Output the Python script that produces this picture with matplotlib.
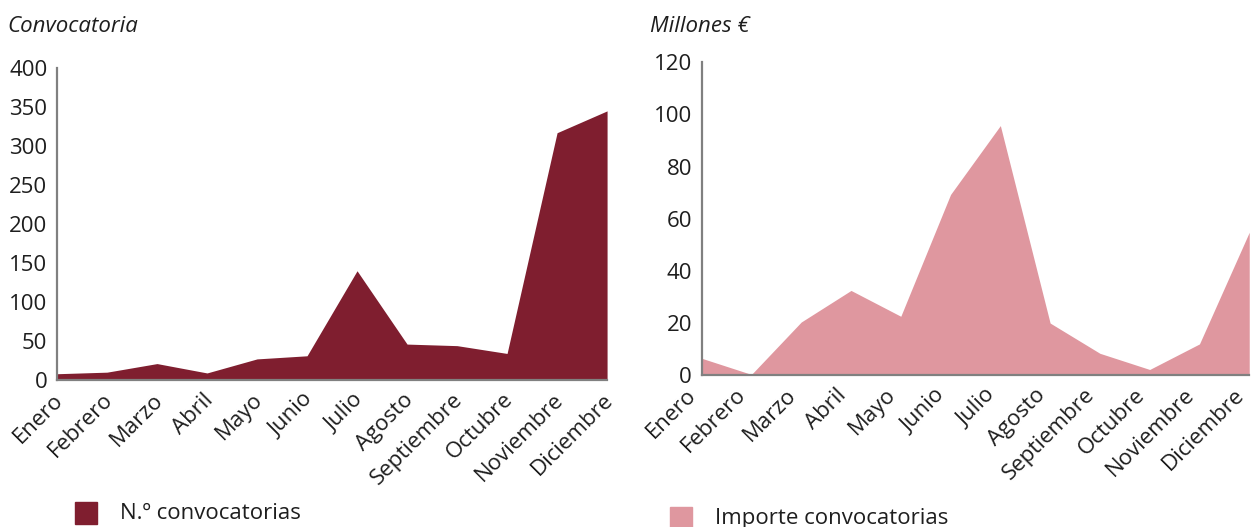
import matplotlib.pyplot as plt
from matplotlib.patches import Rectangle

meses = ['Enero', 'Febrero', 'Marzo', 'Abril', 'Mayo', 'Junio', 'Julio',
         'Agosto', 'Septiembre', 'Octubre', 'Noviembre', 'Diciembre']
num_convocatorias = [8, 10, 21, 9, 27, 31, 140, 46, 44, 34, 317, 345]
importe_millones = [6.5, 0.3, 20.4, 32.5, 22.6, 69.3, 95.7, 20.0, 8.4, 2.2, 12.0, 54.8]

granate = '#7f1e2f'
rosa = '#df979f'
gris = '#808080'
texto = '#1e1e1e'

plt.rcParams['font.family'] = ['Open Sans', 'DejaVu Sans']

fig = plt.figure(figsize=(12.53, 5.27), dpi=100)


def panel(rect, values, color, ymax, step, title, title_x, legend_label, leg_xy, dx):
    ax = fig.add_axes(rect)
    x = list(range(len(values)))
    ax.fill_between(x, values, 0, color=color, linewidth=0)
    ax.set_xlim(0, len(values) - 1)
    ax.set_ylim(0, ymax)
    ax.set_yticks(range(0, ymax + 1, step))
    ax.set_xticks(x)
    ax.set_xticklabels([])
    # month labels drawn by hand so they can be nudged to end at the tick
    for i, m in enumerate(meses):
        ax.annotate(m, xy=(i, 0), xycoords=('data', 'axes fraction'),
                    xytext=(dx, -12), textcoords='offset points',
                    rotation=45, ha='right', va='center', rotation_mode='anchor',
                    fontsize=16, color=texto, annotation_clip=False)
    ax.tick_params(axis='y', labelsize=16, labelcolor=texto, length=0, pad=7)
    ax.tick_params(axis='x', length=0)
    for s in ['top', 'right']:
        ax.spines[s].set_visible(False)
    for s in ['left', 'bottom']:
        ax.spines[s].set_color(gris)
        ax.spines[s].set_linewidth(1.6)
    fig.text(title_x, 0.95, title, fontsize=16, style='italic', color=texto,
             va='center', ha='left')
    lx, ly = leg_xy
    fig.patches.append(Rectangle((lx, ly), 0.0176, 0.042, color=color,
                                 transform=fig.transFigure))
    fig.text(lx + 0.036, ly + 0.02, legend_label, fontsize=16, color=texto,
             va='center', ha='left')
    return ax


panel([0.0455, 0.279, 0.439, 0.592], num_convocatorias, granate, 400, 50,
      'Convocatoria', 0.006, 'N.º convocatorias', (0.060, 0.006), 2)
panel([0.560, 0.288, 0.437, 0.594], importe_millones, rosa, 120, 20,
      'Millones €', 0.519, 'Importe convocatorias', (0.535, -0.004), -6)

fig.savefig('out.png', dpi=100)
